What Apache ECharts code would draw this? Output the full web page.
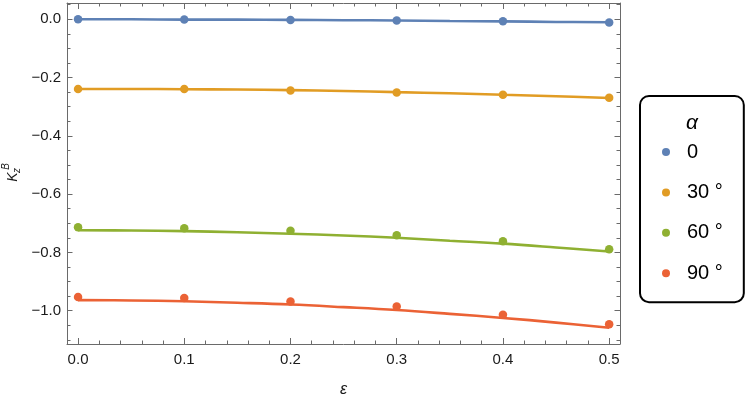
<!DOCTYPE html>
<html>
<head>
<meta charset="utf-8">
<script src="https://cdn.jsdelivr.net/npm/echarts@6/dist/echarts.min.js"></script>
<style>
html,body{margin:0;padding:0;background:#fff;}
#chart{width:747px;height:398px;}
</style>
</head>
<body>
<div id="chart"></div>
<script>
// ---- data ----
const seriesNames = ["0", "30 °", "60 °", "90 °"];
const eps = [0, 0.1, 0.2, 0.3, 0.4, 0.5];
const pts0  = [0.000, -0.001, -0.002, -0.004, -0.007, -0.011];
const pts30 = [-0.239, -0.239, -0.244, -0.251, -0.259, -0.269];
const pts60 = [-0.714, -0.717, -0.726, -0.741, -0.762, -0.789];
const pts90 = [-0.953, -0.957, -0.969, -0.986, -1.014, -1.047];

const epsFit = [0, 0.05, 0.1, 0.15, 0.2, 0.25, 0.3, 0.35, 0.4, 0.45, 0.5];
const fit0  = [0.000, 0.000, -0.001, -0.001, -0.002, -0.003, -0.004, -0.006, -0.007, -0.009, -0.010];
const fit30 = [-0.239, -0.239, -0.240, -0.241, -0.243, -0.246, -0.250, -0.254, -0.259, -0.264, -0.270];
const fit60 = [-0.724, -0.725, -0.727, -0.731, -0.736, -0.742, -0.750, -0.760, -0.770, -0.783, -0.797];
const fit90 = [-0.964, -0.965, -0.968, -0.973, -0.979, -0.988, -0.998, -1.011, -1.025, -1.041, -1.059];

const xMajorTicks = [0, 0.1, 0.2, 0.3, 0.4, 0.5];
const xMinorTicks = [0.02, 0.04, 0.06, 0.08, 0.12, 0.14, 0.16, 0.18, 0.22, 0.24, 0.26, 0.28,
                     0.32, 0.34, 0.36, 0.38, 0.42, 0.44, 0.46, 0.48];
const yMajorTicks = [0, -0.2, -0.4, -0.6, -0.8, -1.0];
const yMinorTicks = [0.05, -0.05, -0.1, -0.15, -0.25, -0.3, -0.35, -0.45, -0.5, -0.55,
                     -0.65, -0.7, -0.75, -0.85, -0.9, -0.95, -1.05, -1.1];
const xRange = [-0.0104, 0.5102];
const yRange = [-1.1145, 0.056];

// ---- styling ----
const colors = ['#5E81B5', '#E19C24', '#8FB032', '#EB6235'];
const FONT = 'Liberation Sans';
const frameColor = '#6a6a6a';
const fmt = v => v.toFixed(1).replace('-', '\u2212');

function xAx(position, ticks, len, showLine, showLabel) {
  return {
    type: 'value', position: position, min: xRange[0], max: xRange[1],
    axisLine: {show: showLine, onZero: false, lineStyle: {color: frameColor, width: 1}},
    axisTick: {show: true, inside: true, length: len, customValues: ticks,
               lineStyle: {color: frameColor, width: 1}},
    axisLabel: {show: showLabel, customValues: ticks, formatter: fmt, margin: 8,
                fontFamily: FONT, fontSize: 15, color: '#1a1a1a'},
    splitLine: {show: false}, minorTick: {show: false}
  };
}
function yAx(position, ticks, len, showLine, showLabel) {
  return {
    type: 'value', position: position, min: yRange[0], max: yRange[1],
    axisLine: {show: showLine, onZero: false, lineStyle: {color: frameColor, width: 1}},
    axisTick: {show: true, inside: true, length: len, customValues: ticks,
               lineStyle: {color: frameColor, width: 1}},
    axisLabel: {show: showLabel, customValues: ticks, formatter: fmt, margin: 6,
                fontFamily: FONT, fontSize: 15, color: '#1a1a1a'},
    splitLine: {show: false}, minorTick: {show: false}
  };
}

const fits = [fit0, fit30, fit60, fit90];
const pts = [pts0, pts30, pts60, pts90];
const series = [];
fits.forEach((f, i) => {
  series.push({
    name: seriesNames[i] + ' fit', type: 'line', xAxisIndex: 0, yAxisIndex: 0,
    data: epsFit.map((e, k) => [e, f[k]]), smooth: 0.4, showSymbol: false,
    lineStyle: {color: colors[i], width: 2.6}, itemStyle: {color: colors[i]},
    z: 2, silent: true
  });
});
pts.forEach((p, i) => {
  series.push({
    name: seriesNames[i], type: 'scatter', xAxisIndex: 0, yAxisIndex: 0,
    data: eps.map((e, k) => [e, p[k]]), symbol: 'circle', symbolSize: 8.5,
    itemStyle: {color: colors[i], opacity: 1}, z: 3
  });
});

const chart = echarts.init(document.getElementById('chart'), null, {renderer: 'canvas'});
chart.setOption({
  animation: false,
  backgroundColor: '#ffffff',
  grid: {left: 67, right: 127, top: 3, bottom: 54, containLabel: false, outerBoundsMode: 'none'},
  xAxis: [
    Object.assign(xAx('bottom', xMajorTicks, 6, true, true), {
      name: '\u03B5', nameLocation: 'middle', nameGap: 38,
      nameTextStyle: {fontFamily: FONT, fontSize: 16, fontStyle: 'italic', color: '#1a1a1a'}
    }),
    xAx('bottom', xMinorTicks, 3.5, false, false),
    xAx('top', xMajorTicks, 6, true, false),
    xAx('top', xMinorTicks, 3.5, false, false)
  ],
  yAxis: [
    yAx('left', yMajorTicks, 5.5, true, true),
    yAx('left', yMinorTicks, 3.5, false, false),
    yAx('right', yMajorTicks, 5.5, true, false),
    yAx('right', yMinorTicks, 3.5, false, false)
  ],
  legend: {
    data: seriesNames,
    orient: 'vertical',
    left: 640, top: 96,
    padding: [46, 21, 19, 22],
    itemWidth: 32, itemHeight: 8, itemGap: 20.4,
    icon: 'circle',
    backgroundColor: '#ffffff',
    borderColor: '#000000', borderWidth: 2, borderRadius: 9,
    selectedMode: false,
    textStyle: {fontFamily: FONT, fontSize: 20, lineHeight: 20, color: '#000000'}
  },
  graphic: [
    {
      type: 'text', x: 692, y: 123, z: 100,
      style: {text: '\u03B1', font: 'italic 21px "Liberation Sans"', fill: '#000',
              align: 'center', verticalAlign: 'middle'}
    },
    {
      type: 'group', x: 13, y: 177, rotation: Math.PI / 2, z: 100,
      children: [
        {type: 'text', x: 0, y: 0, z: 100,
         style: {text: 'K', font: 'italic 14px "Liberation Sans"', fill: '#1a1a1a',
                 align: 'center', verticalAlign: 'middle'}},
        {type: 'text', x: 6.5, y: 4.5, z: 100,
         style: {text: 'z', font: 'italic 10px "Liberation Sans"', fill: '#1a1a1a',
                 align: 'center', verticalAlign: 'middle'}},
        {type: 'text', x: 10.5, y: -6.5, z: 100,
         style: {text: 'B', font: 'italic 10px "Liberation Sans"', fill: '#1a1a1a',
                 align: 'center', verticalAlign: 'middle'}}
      ]
    }
  ],
  series: series
});
</script>
</body>
</html>
